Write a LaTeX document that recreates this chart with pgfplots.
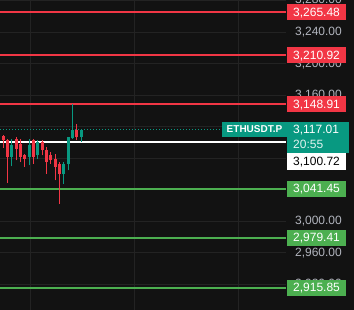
\documentclass[border=0pt]{standalone}
\usepackage{pgfplots}
\pgfplotsset{compat=1.18}
\usepackage{pgfplotstable}
\usepackage{fontspec}
\setmainfont{Liberation Sans}
\definecolor{bg}{HTML}{121212}
\definecolor{gridc}{HTML}{232323}
\definecolor{tvred}{HTML}{F23645}
\definecolor{tvgreen}{HTML}{4CAF50}
\definecolor{candleup}{HTML}{089981}
\definecolor{candledn}{HTML}{F23645}
\definecolor{tickgray}{HTML}{B2B5BE}

% down (red) candles: index open high low close
\pgfplotstableread{
x  o      h      l      c
1  3107.8 3110.0 3093.4 3102.8
2  3102.8 3104.9 3048.5 3081.6
4  3104.9 3107.0 3077.3 3092.2
5  3098.5 3104.9 3075.2 3081.6
6  3083.7 3085.8 3068.9 3079.4
8  3102.8 3104.9 3073.1 3081.6
10 3100.6 3102.8 3083.7 3090.0
11 3090.0 3094.3 3060.4 3075.2
12 3083.7 3087.9 3073.1 3077.3
13 3079.4 3085.8 3051.9 3068.9
14 3073.1 3075.2 3022.2 3060.4
18 3116.3 3124.0 3102.8 3107.0
}\downtab

% up (green) candles
\pgfplotstableread{
x  o      h      l      c
3  3081.6 3104.9 3069.7 3096.4
7  3081.6 3104.9 3071.0 3096.4
9  3083.7 3102.8 3079.4 3100.6
15 3060.4 3075.2 3047.7 3073.1
16 3073.1 3107.0 3064.6 3107.0
17 3106.1 3148.5 3104.9 3116.3
19 3107.0 3117.6 3100.6 3115.5
}\uptab

\begin{document}
\begin{tikzpicture}
\useasboundingbox (0,0) rectangle (354bp,310bp);
\fill[bg] (0,0) rectangle (354bp,310bp);
\begin{axis}[
  at={(0,0)}, anchor=south west,
  scale only axis, width=286bp, height=310bp,
  xmin=0.238, xmax=66.29, ymin=2887.5, ymax=3280.7,
  axis line style={draw=none},
  major tick length=0pt,
  xtick={7.17,31.25,55.4}, xticklabels={},
  ytick={2920,2960,3000,3040,3080,3120,3160,3200,3240,3280},
  yticklabels={{2,920.00},{2,960.00},{3,000.00},{},{},{},{3,160.00},{3,200.00},{3,240.00},{3,280.00}},
  grid=major, grid style={gridc, line width=1bp},
  yticklabel pos=right,
  yticklabel style={anchor=east, xshift=56bp, inner sep=0pt, text=tickgray,
    font=\fontsize{12bp}{14bp}\selectfont},
]
% price levels
\addplot[tvred, line width=2bp] coordinates {(0.238,3265.48) (66.29,3265.48)};
\addplot[tvred, line width=2bp] coordinates {(0.238,3210.92) (66.29,3210.92)};
\addplot[tvred, line width=2bp] coordinates {(0.238,3148.91) (66.29,3148.91)};
\addplot[white, line width=2bp] coordinates {(0.238,3100.72) (66.29,3100.72)};
\addplot[tvgreen, line width=2bp] coordinates {(0.238,3041.45) (66.29,3041.45)};
\addplot[tvgreen, line width=2bp] coordinates {(0.238,2979.41) (66.29,2979.41)};
\addplot[tvgreen, line width=2bp] coordinates {(0.238,2915.85) (66.29,2915.85)};
\addplot[candleup, line width=1bp, dash pattern=on 1bp off 2bp] coordinates {(0.238,3117.01) (66.29,3117.01)};
% candles: wicks
\addplot[candledn, line width=1bp, mark=none, quiver={u=0, v=\thisrow{h}-\thisrow{l}}] table[x=x, y=l] \downtab;
\addplot[candleup, line width=1bp, mark=none, quiver={u=0, v=\thisrow{h}-\thisrow{l}}] table[x=x, y=l] \uptab;
% candles: bodies
\addplot[candledn, line width=3bp, mark=none, quiver={u=0, v=\thisrow{o}-\thisrow{c}}] table[x=x, y=c] \downtab;
\addplot[candleup, line width=3bp, mark=none, quiver={u=0, v=\thisrow{c}-\thisrow{o}}] table[x=x, y=o] \uptab;
% anchors for labels
\coordinate (A1) at (axis cs:66.29,3265.48);
\coordinate (A2) at (axis cs:66.29,3210.92);
\coordinate (A3) at (axis cs:66.29,3148.91);
\coordinate (A4) at (axis cs:66.29,3117.01);
\coordinate (A5) at (axis cs:66.29,3100.72);
\coordinate (A6) at (axis cs:66.29,3041.45);
\coordinate (A7) at (axis cs:66.29,2979.41);
\coordinate (A8) at (axis cs:66.29,2915.85);
\end{axis}
\tikzset{lab/.style={anchor=west, xshift=1bp, inner xsep=6bp, inner ysep=0pt,
  minimum height=16bp, text height=8.6bp, text depth=0pt, text=white,
  font=\fontsize{12bp}{14bp}\selectfont}}
\node[lab, fill=tvred] at (A1) {3,265.48};
\node[lab, fill=tvred] at (A2) {3,210.92};
\node[lab, fill=tvred] at (A3) {3,148.91};
\node[lab, fill=tvgreen] at (A6) {3,041.45};
\node[lab, fill=tvgreen] at (A7) {2,979.41};
\node[lab, fill=tvgreen] at (A8) {2,915.85};
\node[lab, fill=white, text=black, minimum height=17bp] at ([yshift=-19.5bp]A5) {3,100.72};
\fill[candleup] ([xshift=1bp,yshift=7.5bp]A4) rectangle ++(62bp,-31bp);
\node[lab, fill=none] at (A4) {3,117.01};
\node[lab, fill=none, text=white!88!candleup] at ([yshift=-15bp]A4) {20:55};
\node[anchor=east, xshift=1bp, fill=candleup, text=white, inner xsep=4.5bp, inner ysep=0pt,
  minimum height=15bp, text height=7.2bp, text depth=0pt,
  font=\bfseries\fontsize{10bp}{12bp}\selectfont] at (A4) {ETHUSDT.P};
\end{tikzpicture}
\end{document}
